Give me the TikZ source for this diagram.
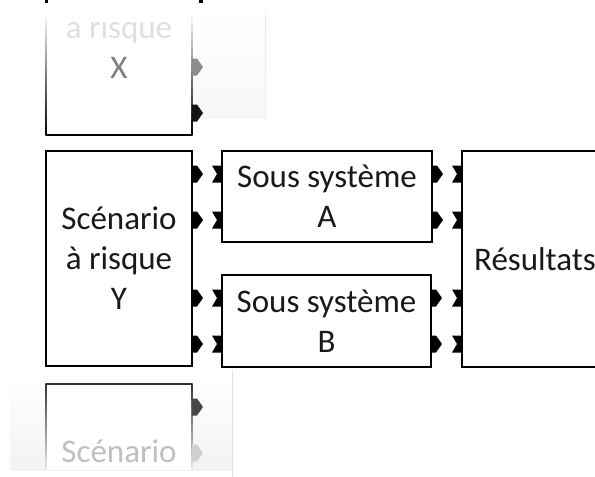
\documentclass[tikz,border=0pt]{standalone}
\usepackage{fontspec}
\setmainfont{Carlito}
\usetikzlibrary{calc}
\begin{document}
\begin{tikzpicture}[x=1pt,y=-1pt,
  blk/.style={draw=black, line width=1.3pt, fill=white, inner sep=0pt, outer sep=0pt,
    anchor=north west, align=center, font=\fontsize{33}{40}\selectfont, text=black!90},
  lbl/.style={inner sep=0pt, align=center, font=\fontsize{33}{40}\selectfont},
  outport/.pic={\fill (0,-8.5) -- (5,-8.5) -- (11,0) -- (5,8.5) -- (0,8.5) -- cycle;},
  inport/.pic={\fill (-10,-8.5) -- (0,-8.5) -- (0,8.5) -- (-10,8.5) -- (-5,0) -- cycle;}]
\useasboundingbox (0,0) rectangle (595,477);
\clip (0,0) rectangle (595,477);
% ---------- top faded scenario X ----------
\shade[top color=white, bottom color=gray!6] (44,10) rectangle (265,118);
\draw[gray!15, line width=0.8pt] (265,10) -- (265,118);
\fill[white] (46,10) rectangle (192,135);
\shade[top color=white, middle color=black!50, bottom color=black] (45.35,12) rectangle (46.65,135.65);
\shade[top color=white, middle color=black!50, bottom color=black] (191.35,12) rectangle (192.65,135.65);
\draw[black, line width=1.3pt] (46,135) -- (192,135);
\coordinate (Xse) at (192,135);
\pic[black!45] at ($(Xse)+(0,-68)$) {outport};
\pic[black!92] at ($(Xse)+(0,-22)$) {outport};
\begin{scope}
  \clip (0,22) rectangle (300,140);
  \node[lbl] (Xtxt) at (119,47.5) {{\color{black!12}à risque}\\{\color{black!50}X}};
\end{scope}
\fill[black] (45,0) rectangle (48,3);
\fill[black] (199,0) rectangle (203,3);
% ---------- bottom faded scenario ----------
\shade[top color=white, bottom color=gray!10] (10,378) rectangle (232,470);
\draw[gray!22, line width=0.8pt] (232,370) -- (232,477);
\fill[white] (46,384) rectangle (192,470);
\draw[black!80, line width=1.3pt] (46,384) -- (192,384);
\shade[top color=black!80, bottom color=black!8] (45.35,383.35) rectangle (46.65,470);
\shade[top color=black!80, bottom color=black!8] (191.35,383.35) rectangle (192.65,470);
\coordinate (Zne) at (192,384);
\pic[black!72] at ($(Zne)+(0,23)$) {outport};
\pic[black!18] at ($(Zne)+(0,69)$) {outport};
\begin{scope}
  \clip (0,380) rectangle (300,469);
  \node[lbl, text=black!25] (Ztxt) at (119,451.5) {Scénario};
\end{scope}
% ---------- main blocks ----------
\node[blk, minimum width=146pt, minimum height=215pt] (Y) at (46,151) {Scénario\\à risque\\Y};
\node[blk, minimum width=210pt, minimum height=91pt] (A) at (222,151) {Sous système\\A};
\node[blk, minimum width=209pt, minimum height=92pt] (B) at (222,275) {Sous système\\B};
\node[blk, minimum width=146pt, minimum height=216pt] (R) at (462,151) {Résultats};
\foreach \o in {23,69,147,193} {
  \pic[black] at ($(Y.north east)+(0,\o)$) {outport};
  \pic[black] at ($(R.north west)+(0,\o)$) {inport};
}
\foreach \o in {23,69} {
  \pic[black] at ($(A.north west)+(0,\o)$) {inport};
  \pic[black] at ($(A.north east)+(0,\o)$) {outport};
  \pic[black] at ($(B.north west)+(0,\o)$) {inport};
  \pic[black] at ($(B.north east)+(0,\o)$) {outport};
}
\end{tikzpicture}
\end{document}
